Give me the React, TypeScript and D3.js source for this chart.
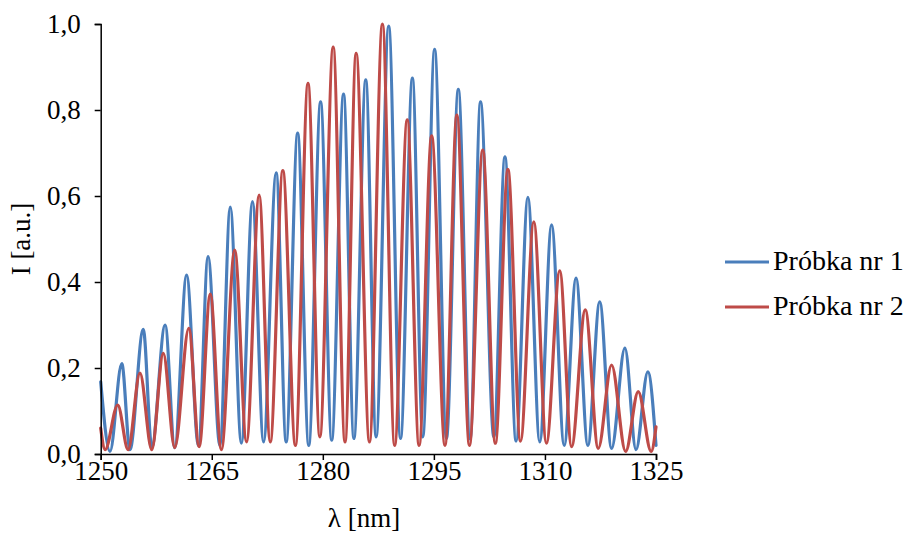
import React, { useEffect, useRef } from "react";
import * as d3 from "d3";

// Próbka nr 1 – maxima and minima of the fringes
const lambda1 = [
  1250.0, 1251.25, 1252.85, 1253.95, 1255.75, 1256.9, 1258.7, 1260.0, 1261.6, 1263.2,
  1264.5, 1266.1, 1267.5, 1269.0, 1270.5, 1272.0, 1273.7, 1275.05, 1276.6, 1278.1,
  1279.7, 1281.2, 1282.8, 1284.2, 1285.8, 1287.2, 1288.9, 1290.5, 1292.1, 1293.5,
  1295.1, 1296.7, 1298.3, 1299.9, 1301.3, 1303.1, 1304.6, 1306.1, 1307.7, 1309.3,
  1310.9, 1312.6, 1314.2, 1315.8, 1317.4, 1319.0, 1320.8, 1322.3, 1323.9, 1325.0
];
const intensity1 = [
  0.168, 0.006, 0.21, 0.01, 0.29, 0.015, 0.3, 0.015, 0.416, 0.02,
  0.459, 0.02, 0.574, 0.025, 0.587, 0.028, 0.654, 0.028, 0.746, 0.02,
  0.819, 0.032, 0.837, 0.036, 0.87, 0.04, 0.995, 0.036, 0.874, 0.04,
  0.941, 0.036, 0.848, 0.035, 0.819, 0.04, 0.691, 0.03, 0.597, 0.028,
  0.533, 0.02, 0.409, 0.02, 0.354, 0.013, 0.246, 0.01, 0.191, 0.02
];

// Próbka nr 2
const lambda2 = [
  1250.0, 1250.6, 1252.3, 1253.7, 1255.3, 1256.9, 1258.45, 1260.0, 1261.9, 1263.3,
  1264.8, 1266.3, 1268.1, 1269.7, 1271.4, 1272.9, 1274.6, 1276.3, 1278.0, 1279.6,
  1281.4, 1283.0, 1284.5, 1286.3, 1288.05, 1289.7, 1291.4, 1293.0, 1294.7, 1296.5,
  1298.1, 1299.8, 1301.6, 1303.3, 1305.0, 1306.7, 1308.5, 1310.2, 1312.0, 1313.6,
  1315.45, 1317.2, 1319.0, 1320.9, 1322.6, 1324.35, 1325.0
];
const intensity2 = [
  0.06, 0.01, 0.114, 0.01, 0.188, 0.01, 0.234, 0.015, 0.292, 0.017,
  0.372, 0.01, 0.474, 0.028, 0.602, 0.028, 0.659, 0.02, 0.862, 0.04,
  0.946, 0.028, 0.932, 0.028, 1.0, 0.02, 0.777, 0.02, 0.74, 0.02,
  0.788, 0.02, 0.707, 0.025, 0.662, 0.03, 0.54, 0.025, 0.426, 0.017,
  0.335, 0.013, 0.207, 0.006, 0.145, 0.006, 0.063
];

const seriesNames = ["Próbka nr 1", "Próbka nr 2"];
const seriesColors = ["#4A7EBB", "#BE4B48"];
const xTicks = [1250, 1265, 1280, 1295, 1310, 1325];
const yTicks = [0, 0.2, 0.4, 0.6, 0.8, 1.0];

const W = 907;
const H = 535;
const FONT = "'Liberation Serif', 'Times New Roman', serif";
const FS = "27px";

export default function App() {
  const ref = useRef<SVGSVGElement>(null);

  useEffect(() => {
    const svg = d3.select(ref.current);
    svg.selectAll("*").remove();

    const x = d3.scaleLinear().domain([1250, 1325]).range([100.7, 656]);
    const y = d3.scaleLinear().domain([0, 1]).range([454, 24]);

    const series = [
      lambda1.map((l, i) => ({ x: l, y: intensity1[i] })),
      lambda2.map((l, i) => ({ x: l, y: intensity2[i] }))
    ];

    const line = d3.line<{ x: number; y: number }>()
      .x(d => x(d.x))
      .y(d => y(d.y))
      .curve(d3.curveMonotoneX);

    series.forEach((s, i) => {
      svg.append("path")
        .attr("d", line(s))
        .attr("fill", "none")
        .attr("stroke", seriesColors[i])
        .attr("stroke-width", 3.2)
        .attr("stroke-linejoin", "round")
        .attr("stroke-linecap", "round");
    });

    // y axis
    const yAxis = svg.append("g")
      .attr("transform", "translate(" + x(1250) + ",0)")
      .call(
        d3.axisLeft(y)
          .tickValues(yTicks)
          .tickSize(6)
          .tickPadding(14)
          .tickFormat(d => d3.format(".1f")(d as number).replace(".", ","))
      );

    // x axis
    const xAxis = svg.append("g")
      .attr("transform", "translate(0," + y(0) + ")")
      .call(
        d3.axisBottom(x)
          .tickValues(xTicks)
          .tickSize(6)
          .tickPadding(1)
          .tickFormat(d3.format("d"))
      );

    [yAxis, xAxis].forEach(a => {
      a.select(".domain").attr("stroke", "#000").attr("stroke-width", 1.5);
      a.selectAll(".tick line").attr("stroke", "#000").attr("stroke-width", 1.5);
      a.selectAll(".tick text")
        .attr("fill", "#000")
        .style("font-family", FONT)
        .style("font-size", FS);
    });

    // axis titles
    svg.append("text")
      .text("λ [nm]")
      .attr("x", 364)
      .attr("y", 527)
      .attr("text-anchor", "middle")
      .style("font-family", FONT)
      .style("font-size", FS);

    svg.append("text")
      .text("I [a.u.]")
      .attr("transform", "translate(30," + y(0.5) + ") rotate(-90)")
      .attr("text-anchor", "middle")
      .style("font-family", FONT)
      .style("font-size", FS);

    // legend
    seriesNames.forEach((name, i) => {
      const ly = 262 + i * 45;
      svg.append("line")
        .attr("x1", 725)
        .attr("x2", 769)
        .attr("y1", ly)
        .attr("y2", ly)
        .attr("stroke", seriesColors[i])
        .attr("stroke-width", 3.2);
      svg.append("text")
        .text(name)
        .attr("x", 773)
        .attr("y", ly + 8)
        .style("font-family", FONT)
        .style("font-size", "28px");
    });
  }, []);

  return (
    <svg
      ref={ref}
      width={W}
      height={H}
      style={{ position: "absolute", left: 0, top: 0, background: "#fff" }}
    />
  );
}
